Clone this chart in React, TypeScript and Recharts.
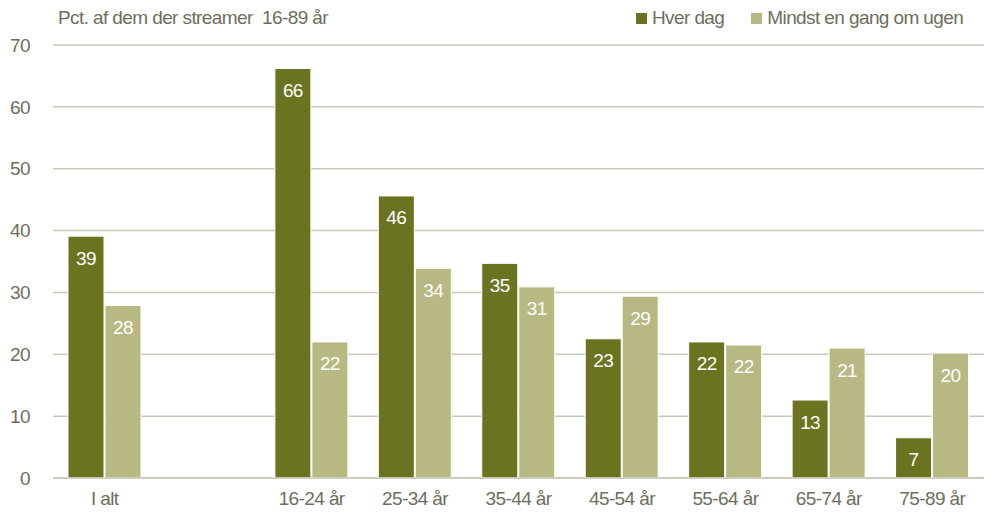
import React from 'react';
import { Bar, BarChart, CartesianGrid, LabelList, XAxis, YAxis } from 'recharts';

const categories = ['I alt', '', '16-24 år', '25-34 år', '35-44 år', '45-54 år', '55-64 år', '65-74 år', '75-89 år'];
const everyDay = [39.1, null, 66.2, 45.6, 34.7, 22.5, 22.0, 12.6, 6.5];
const weekly = [27.9, null, 22.0, 33.9, 30.9, 29.4, 21.5, 21.0, 20.2];
const yTicks = [0, 10, 20, 30, 40, 50, 60, 70];

const data = categories.map((name, i) => ({ name, everyDay: everyDay[i], weekly: weekly[i] }));

const DARK = '#6b7320';
const LIGHT = '#b8b882';
const TEXT = '#6e6e5c';
const GRID = '#c9c9b9';
const FONT = '"Liberation Sans Narrow", "Arial Narrow", "Liberation Sans", sans-serif';
const SPACING = '-0.6px';

const fmt = (v: any) => (v == null ? '' : Math.round(Number(v)));

const tickStyle = { fill: TEXT, fontSize: 19, fontFamily: FONT, letterSpacing: SPACING };

const App: React.FC = () => (
  <div style={{ position: 'absolute', left: 0, top: 0, width: 988, height: 515, background: '#fff', fontFamily: FONT, letterSpacing: SPACING }}>
    <div style={{ position: 'absolute', left: 58, top: 7, fontSize: 19, color: TEXT }}>
      Pct. af dem der streamer&nbsp;&nbsp;16-89 år
    </div>
    <div style={{ position: 'absolute', left: 636, top: 7, fontSize: 19, color: TEXT, display: 'flex', alignItems: 'center' }}>
      <span style={{ width: 11, height: 11, background: DARK, display: 'inline-block', marginRight: 5 }} />
      <span style={{ marginRight: 27 }}>Hver dag</span>
      <span style={{ width: 11, height: 11, background: LIGHT, display: 'inline-block', marginRight: 5 }} />
      <span>Mindst en gang om ugen</span>
    </div>
    <BarChart
      width={988}
      height={515}
      data={data}
      margin={{ top: 45, right: 4, left: 0, bottom: 7 }}
      barGap={1}
      barSize={36}
    >
      <CartesianGrid vertical={false} stroke={GRID} strokeWidth={1.5} />
      <XAxis
        dataKey="name"
        tickLine={false}
        axisLine={{ stroke: GRID, strokeWidth: 1.5 }}
        tick={tickStyle}
        tickMargin={8}
        height={30}
        interval={0}
      />
      <YAxis
        domain={[0, 70]}
        ticks={yTicks}
        width={53}
        axisLine={false}
        tickLine={false}
        tick={tickStyle}
        tickMargin={17}
      />
      <Bar dataKey="everyDay" fill={DARK} stroke="#ffffff" strokeWidth={1} isAnimationActive={false}>
        <LabelList dataKey="everyDay" position="insideTop" offset={15} formatter={fmt} fill="#ffffff" fontSize={19} fontFamily={FONT} />
      </Bar>
      <Bar dataKey="weekly" fill={LIGHT} stroke="#ffffff" strokeWidth={1} isAnimationActive={false}>
        <LabelList dataKey="weekly" position="insideTop" offset={15} formatter={fmt} fill="#ffffff" fontSize={19} fontFamily={FONT} />
      </Bar>
    </BarChart>
  </div>
);

export default App;
